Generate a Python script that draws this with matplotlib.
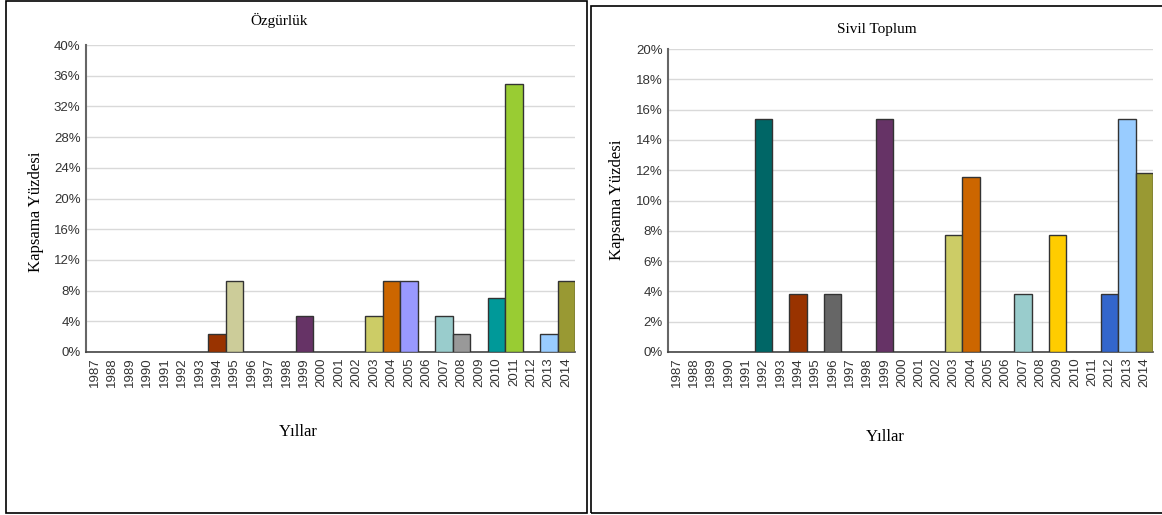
import matplotlib
matplotlib.use("Agg")
import matplotlib.pyplot as plt
from matplotlib.patches import Rectangle

years = [str(y) for y in range(1987, 2015)]

# Özgürlük (percent)
ozgurluk = {"1994": 2.33, "1995": 9.3, "1999": 4.65, "2003": 4.65, "2004": 9.3,
            "2005": 9.3, "2007": 4.65, "2008": 2.33, "2010": 6.98, "2011": 34.9,
            "2013": 2.33, "2014": 9.3}
ozgurluk_colors = {"1994": "#993300", "1995": "#CCCC99", "1999": "#663366",
                   "2003": "#CCCC66", "2004": "#CC6600", "2005": "#9999FF",
                   "2007": "#99CCCC", "2008": "#999999", "2010": "#009999",
                   "2011": "#99CC33", "2013": "#99CCFF", "2014": "#999933"}

# Sivil Toplum (percent)
sivil = {"1992": 15.38, "1994": 3.85, "1996": 3.85, "1999": 15.38, "2003": 7.69,
         "2004": 11.54, "2007": 3.85, "2009": 7.69, "2012": 3.85, "2013": 15.38,
         "2014": 11.8}
sivil_colors = {"1992": "#006666", "1994": "#993300", "1996": "#666666",
                "1999": "#663366", "2003": "#CCCC66", "2004": "#CC6600",
                "2007": "#99CCCC", "2009": "#FFCC00", "2012": "#3366CC",
                "2013": "#99CCFF", "2014": "#999933"}

serif = "Liberation Serif"
sans = "Liberation Sans"

W, H = 1162, 515
fig = plt.figure(figsize=(W / 100, H / 100), dpi=100)


def px(x0, y0, x1, y1):
    return [x0 / W, 1 - y1 / H, (x1 - x0) / W, (y1 - y0) / H]


def draw(ax, data, colors, ymax, step):
    vals = [data.get(y, 0) for y in years]
    cols = [colors.get(y, "white") for y in years]
    xs = list(range(len(years)))
    for x, v, c in zip(xs, vals, cols):
        if v > 0:
            ax.bar(x, v, width=1.0, color=c, edgecolor="#333333", linewidth=1, zorder=3)
    ax.set_xlim(-0.5, len(years) - 0.5)
    ax.set_ylim(0, ymax)
    ticks = list(range(0, ymax + 1, step))
    ax.set_yticks(ticks)
    ax.set_yticklabels([f"{t}%" for t in ticks], fontfamily=sans, fontsize=9.5, color="#333333")
    ax.set_xticks(xs)
    ax.set_xticklabels(years, rotation=90, fontfamily=sans, fontsize=9.5, color="#333333")
    ax.tick_params(length=0, pad=4)
    ax.grid(axis="y", color="#d9d9d9", linewidth=1, zorder=0)
    for s in ["top", "right"]:
        ax.spines[s].set_visible(False)
    ax.spines["left"].set_color("#666666")
    ax.spines["left"].set_linewidth(1.5)
    ax.spines["bottom"].set_color("#444444")
    ax.spines["bottom"].set_linewidth(1.2)


ax1 = fig.add_axes(px(86, 45, 575, 352))
draw(ax1, ozgurluk, ozgurluk_colors, 40, 4)
ax2 = fig.add_axes(px(668, 49, 1153, 352))
draw(ax2, sivil, sivil_colors, 20, 2)

# panel borders
fig.patches.append(Rectangle((6 / W, 1 - 513 / H), 581 / W, 512 / H, transform=fig.transFigure,
                             fill=False, edgecolor="black", linewidth=1.2))
fig.patches.append(Rectangle((591 / W, 1 - 513 / H), 575 / W, 507 / H, transform=fig.transFigure,
                             fill=False, edgecolor="black", linewidth=1.2))

fig.text(279 / W, 1 - 20 / H, "Özgürlük", family=serif, fontsize=11, ha="center", va="center")
fig.text(877 / W, 1 - 29 / H, "Sivil Toplum", family=serif, fontsize=11, ha="center", va="center")
fig.text(36 / W, 1 - 212 / H, "Kapsama Yüzdesi", family=serif, fontsize=12, rotation=90,
         ha="center", va="center")
fig.text(617 / W, 1 - 200 / H, "Kapsama Yüzdesi", family=serif, fontsize=12, rotation=90,
         ha="center", va="center")
fig.text(298 / W, 1 - 432 / H, "Yıllar", family=serif, fontsize=12, ha="center", va="center")
fig.text(885 / W, 1 - 437 / H, "Yıllar", family=serif, fontsize=12, ha="center", va="center")

fig.savefig("out.png", dpi=100, facecolor="white")
